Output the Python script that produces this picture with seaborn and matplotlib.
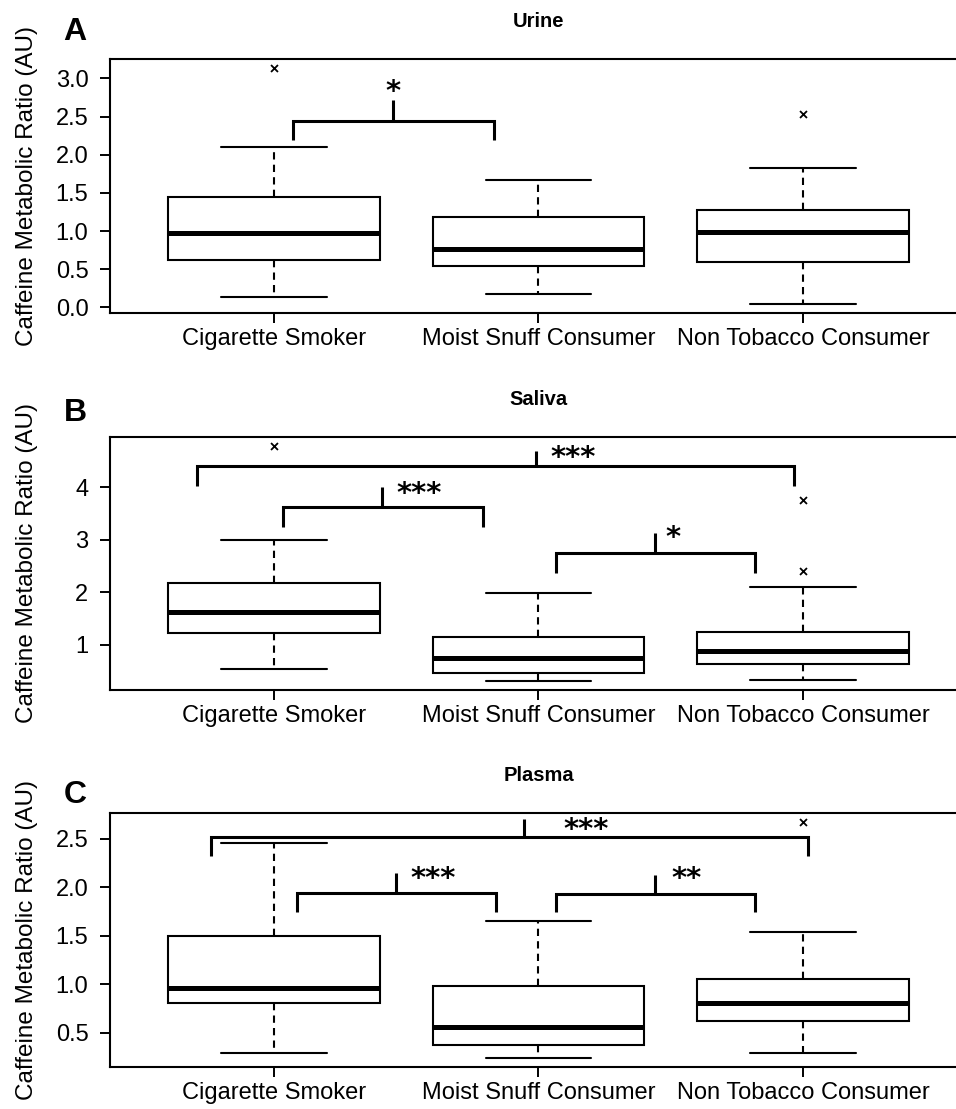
import numpy as np
import pandas as pd
import matplotlib
matplotlib.use("Agg")
import matplotlib.pyplot as plt
import seaborn as sns
from matplotlib.ticker import FixedLocator, FormatStrFormatter

# Groups on the x axis
groups = ["Cigarette Smoker", "Moist Snuff Consumer", "Non Tobacco Consumer"]

# Box summaries: lower whisker, Q1, median, Q3, upper whisker
urine_low = [0.14, 0.18, 0.05]
urine_q1 = [0.62, 0.54, 0.60]
urine_med = [0.98, 0.76, 0.99]
urine_q3 = [1.45, 1.19, 1.27]
urine_high = [2.10, 1.67, 1.83]
urine_out_group = ["Cigarette Smoker", "Non Tobacco Consumer"]
urine_out_value = [3.13, 2.53]

saliva_low = [0.54, 0.32, 0.34]
saliva_q1 = [1.23, 0.46, 0.63]
saliva_med = [1.63, 0.76, 0.89]
saliva_q3 = [2.17, 1.15, 1.25]
saliva_high = [2.99, 1.98, 2.10]
saliva_out_group = ["Cigarette Smoker", "Non Tobacco Consumer", "Non Tobacco Consumer"]
saliva_out_value = [4.78, 2.41, 3.75]

plasma_low = [0.29, 0.24, 0.29]
plasma_q1 = [0.81, 0.37, 0.62]
plasma_med = [0.96, 0.56, 0.81]
plasma_q3 = [1.50, 0.98, 1.05]
plasma_high = [2.45, 1.65, 1.54]
plasma_out_group = ["Non Tobacco Consumer"]
plasma_out_value = [2.67]

# y tick labels
urine_ticks = [0.0, 0.5, 1.0, 1.5, 2.0, 2.5, 3.0]
saliva_ticks = [1, 2, 3, 4]
plasma_ticks = [0.5, 1.0, 1.5, 2.0, 2.5]

# significance brackets: left x, right x, bar y, leg end y, tick x, tick top y, label, label x, label y
urine_sig = [(0.07, 0.83, 2.44, 2.19, 0.45, 2.71, "*", 0.45, 2.95)]
saliva_sig = [(-0.29, 1.965, 4.40, 4.03, 0.99, 4.70, "***", 1.13, 4.73),
              (0.035, 0.79, 3.63, 3.25, 0.41, 4.00, "***", 0.55, 4.06),
              (1.065, 1.82, 2.75, 2.37, 1.44, 3.13, "*", 1.51, 3.21)]
plasma_sig = [(-0.24, 2.02, 2.52, 2.32, 0.946, 2.70, "***", 1.18, 2.69),
              (0.086, 0.84, 1.94, 1.74, 0.46, 2.15, "***", 0.60, 2.18),
              (1.066, 1.82, 1.93, 1.74, 1.44, 2.13, "**", 1.56, 2.18)]

sns.set_style("ticks")
plt.rcParams["font.family"] = ["Liberation Sans", "DejaVu Sans"]
plt.rcParams["text.color"] = "black"
plt.rcParams["axes.labelcolor"] = "black"

W, H = 956, 1109
fig = plt.figure(figsize=(W / 100, H / 100), dpi=100)


def long_table(low, q1, med, q3, high):
    rows = []
    for g, *vals in zip(groups, low, q1, med, q3, high):
        for v in vals:
            rows.append((g, v))
    return pd.DataFrame(rows, columns=["group", "ratio"])


def panel(top_px, bot_px, low, q1, med, q3, high, out_g, out_v,
          ticks, fmt, sig, title, letter, letter_y):
    ax = fig.add_axes([110 / W, 1 - bot_px / H, 857 / W, (bot_px - top_px) / H])
    df = long_table(low, q1, med, q3, high)
    sns.boxplot(data=df, x="group", y="ratio", order=groups, ax=ax,
                whis=(0, 100), width=0.8, color="white", linecolor="black",
                linewidth=1.5, saturation=1,
                medianprops={"linewidth": 3.6},
                whiskerprops={"linestyle": (0, (3.5, 2.5))})
    outl = pd.DataFrame({"group": out_g, "ratio": out_v})
    sns.stripplot(data=outl, x="group", y="ratio", order=groups, ax=ax,
                  jitter=False, marker="x", color="black", size=5, linewidth=1.3)

    # axis limits like R: 4% padding around the data range
    allv = low + high + out_v
    span = max(allv) - min(allv)
    ax.set_ylim(min(allv) - 0.04 * span, max(allv) + 0.04 * span)
    ax.set_xlim(-0.62, 2.62)
    ax.yaxis.set_major_locator(FixedLocator(ticks))
    ax.yaxis.set_major_formatter(FormatStrFormatter(fmt))

    for s in ax.spines.values():
        s.set_visible(True)
        s.set_linewidth(1.5)
        s.set_color("black")
    ax.tick_params(axis="y", length=7.5, width=1.4, pad=8, labelsize=17, colors="black")
    ax.tick_params(axis="x", length=7.5, width=1.4, pad=3, labelsize=17, colors="black")
    ax.set_xlabel("")
    ax.set_ylabel("Caffeine Metabolic Ratio (AU)", fontsize=17.5)
    ax.yaxis.set_label_coords(-0.084, 0.5)

    for xl, xr, yb, yl, xt, yt, lab, lx, ly in sig:
        ax.plot([xl, xl, xr, xr], [yl, yb, yb, yl], color="black", lw=2.2,
                solid_joinstyle="miter", solid_capstyle="butt")
        ax.plot([xt, xt], [yb, yt], color="black", lw=2.2, solid_capstyle="butt")
        ax.annotate(lab, (lx, ly), xytext=(0, -0.6 * 21), textcoords="offset points",
                    ha="center", va="baseline", fontsize=21, fontweight="bold",
                    family="DejaVu Sans")

    ax.annotate(title, (1, 1), xycoords=("data", "axes fraction"),
                xytext=(0, 27), textcoords="offset points",
                ha="center", va="center", fontsize=14.5, fontweight="bold")
    fig.text(75 / W, 1 - letter_y / H, letter, ha="center", va="center",
             fontsize=23, fontweight="bold")
    return ax


panel(59, 313, urine_low, urine_q1, urine_med, urine_q3, urine_high,
      urine_out_group, urine_out_value, urine_ticks, "%.1f", urine_sig, "Urine", "A", 31.5)
panel(437, 690, saliva_low, saliva_q1, saliva_med, saliva_q3, saliva_high,
      saliva_out_group, saliva_out_value, saliva_ticks, "%d", saliva_sig, "Saliva", "B", 413)
panel(812.7, 1067.3, plasma_low, plasma_q1, plasma_med, plasma_q3, plasma_high,
      plasma_out_group, plasma_out_value, plasma_ticks, "%.1f", plasma_sig, "Plasma", "C", 795)

fig.savefig("out.png", dpi=100, facecolor="white")
